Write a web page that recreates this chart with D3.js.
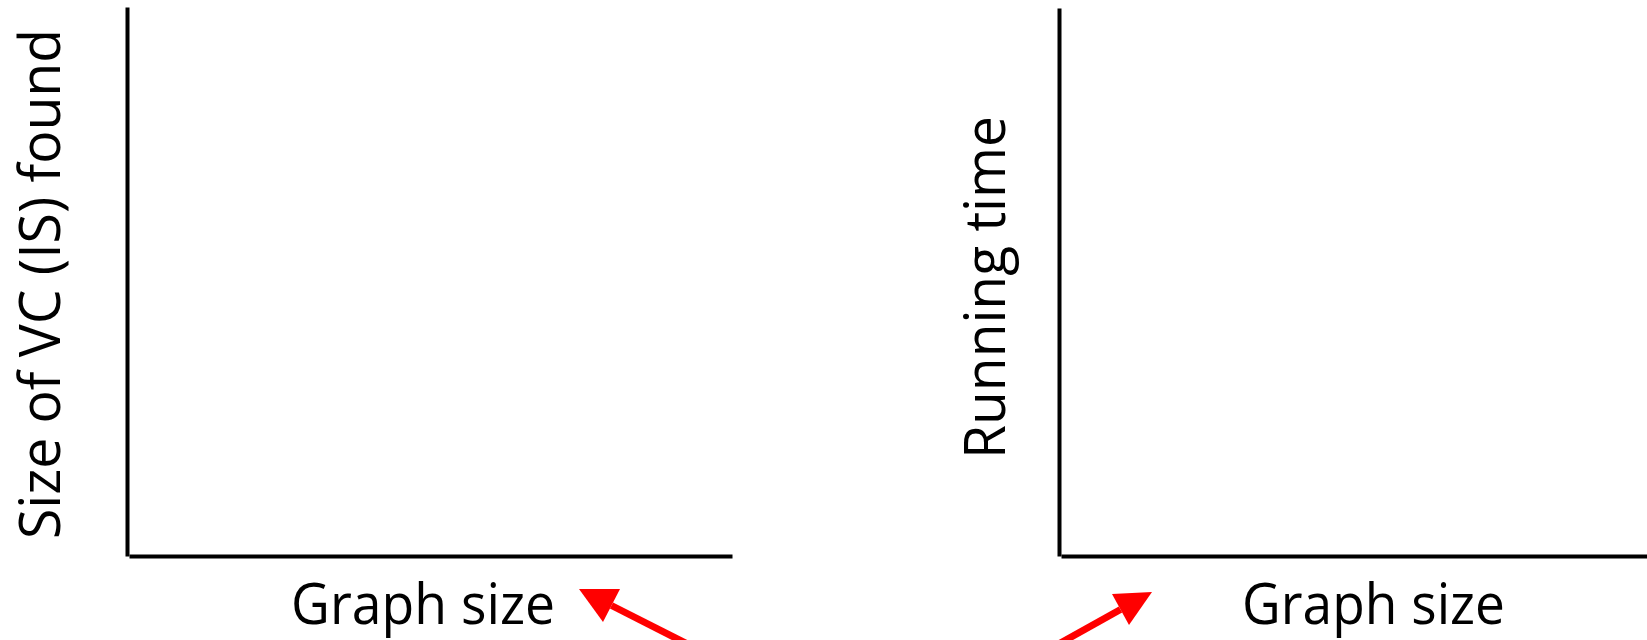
<!DOCTYPE html>
<html>
<head>
<meta charset="utf-8">
<script src="https://cdn.jsdelivr.net/npm/d3@7"></script>
<style>
  html, body { margin: 0; padding: 0; background: #ffffff; }
  svg { display: block; }
  text { font-family: "Open Sans", "Liberation Sans", sans-serif; fill: #000; }
</style>
</head>
<body>
<script>
// ---- chart content (empty axes slide) ----
const panelNames   = ["left", "right"];
const yAxisTitles  = ["Size of VC (IS) found", "Running time"];
const xAxisTitles  = ["Graph size", "Graph size"];
const xDomain      = [0, 1];
const yDomain      = [0, 1];
const xTickValues  = [];
const yTickValues  = [];

// ---- layout ----
const W = 1647, H = 640;
const panels = [
  { x0: 129, x1: 732,  yAxisX: 127,  top: 7, bottom: 556,
    yTitleX: 60,   yTitleMid: 284,   yTitleLen: 510,
    xTitleMid: 423,    xTitleY: 624, xTitleLen: 264 },
  { x0: 1061, x1: 1660, yAxisX: 1059, top: 8, bottom: 556,
    yTitleX: 1005, yTitleMid: 287.5, yTitleLen: 343,
    xTitleMid: 1373.5, xTitleY: 624, xTitleLen: 263 }
];
const fontSize = 56;

const svg = d3.select("body").append("svg")
  .attr("width", W).attr("height", H)
  .attr("viewBox", `0 0 ${W} ${H}`);

svg.append("rect").attr("width", W).attr("height", H).attr("fill", "#fff");

panels.forEach((p, i) => {
  const x = d3.scaleLinear().domain(xDomain).range([p.x0, p.x1]);
  const y = d3.scaleLinear().domain(yDomain).range([p.bottom, p.top]);

  const gx = svg.append("g")
    .attr("class", "x-axis " + panelNames[i])
    .attr("transform", `translate(0,${p.bottom})`)
    .call(d3.axisBottom(x).tickValues(xTickValues).tickSizeOuter(0));
  gx.select(".domain").attr("stroke", "#000").attr("stroke-width", 4);

  const gy = svg.append("g")
    .attr("class", "y-axis " + panelNames[i])
    .attr("transform", `translate(${p.yAxisX},0)`)
    .call(d3.axisLeft(y).tickValues(yTickValues).tickSizeOuter(0));
  gy.select(".domain").attr("stroke", "#000").attr("stroke-width", 4);

  // y axis title (rotated)
  svg.append("text")
    .attr("transform", `translate(${p.yTitleX},${p.yTitleMid}) rotate(-90)`)
    .attr("text-anchor", "middle")
    .attr("font-size", fontSize)
    .attr("textLength", p.yTitleLen)
    .attr("lengthAdjust", "spacingAndGlyphs")
    .text(yAxisTitles[i]);

  // x axis title
  svg.append("text")
    .attr("x", p.xTitleMid).attr("y", p.xTitleY)
    .attr("text-anchor", "middle")
    .attr("font-size", fontSize)
    .attr("textLength", p.xTitleLen)
    .attr("lengthAdjust", "spacingAndGlyphs")
    .text(xAxisTitles[i]);
});

// ---- red annotation arrows pointing at the "Graph size" titles ----
const arrows = [
  { tip: [579, 589], base: [[620, 589], [603, 622]], tail: [719, 660] },
  { tip: [1152, 592], base: [[1112, 594], [1129, 625]], tail: [1030, 660] }
];
const red = "#ff0000";
arrows.forEach(a => {
  const mid = [(a.base[0][0] + a.base[1][0]) / 2, (a.base[0][1] + a.base[1][1]) / 2];
  svg.append("line")
    .attr("x1", a.tail[0]).attr("y1", a.tail[1])
    .attr("x2", mid[0]).attr("y2", mid[1])
    .attr("stroke", red).attr("stroke-width", 7);
  svg.append("path")
    .attr("d", d3.line()([a.tip, a.base[0], a.base[1]]) + "Z")
    .attr("fill", red);
});
</script>
</body>
</html>
